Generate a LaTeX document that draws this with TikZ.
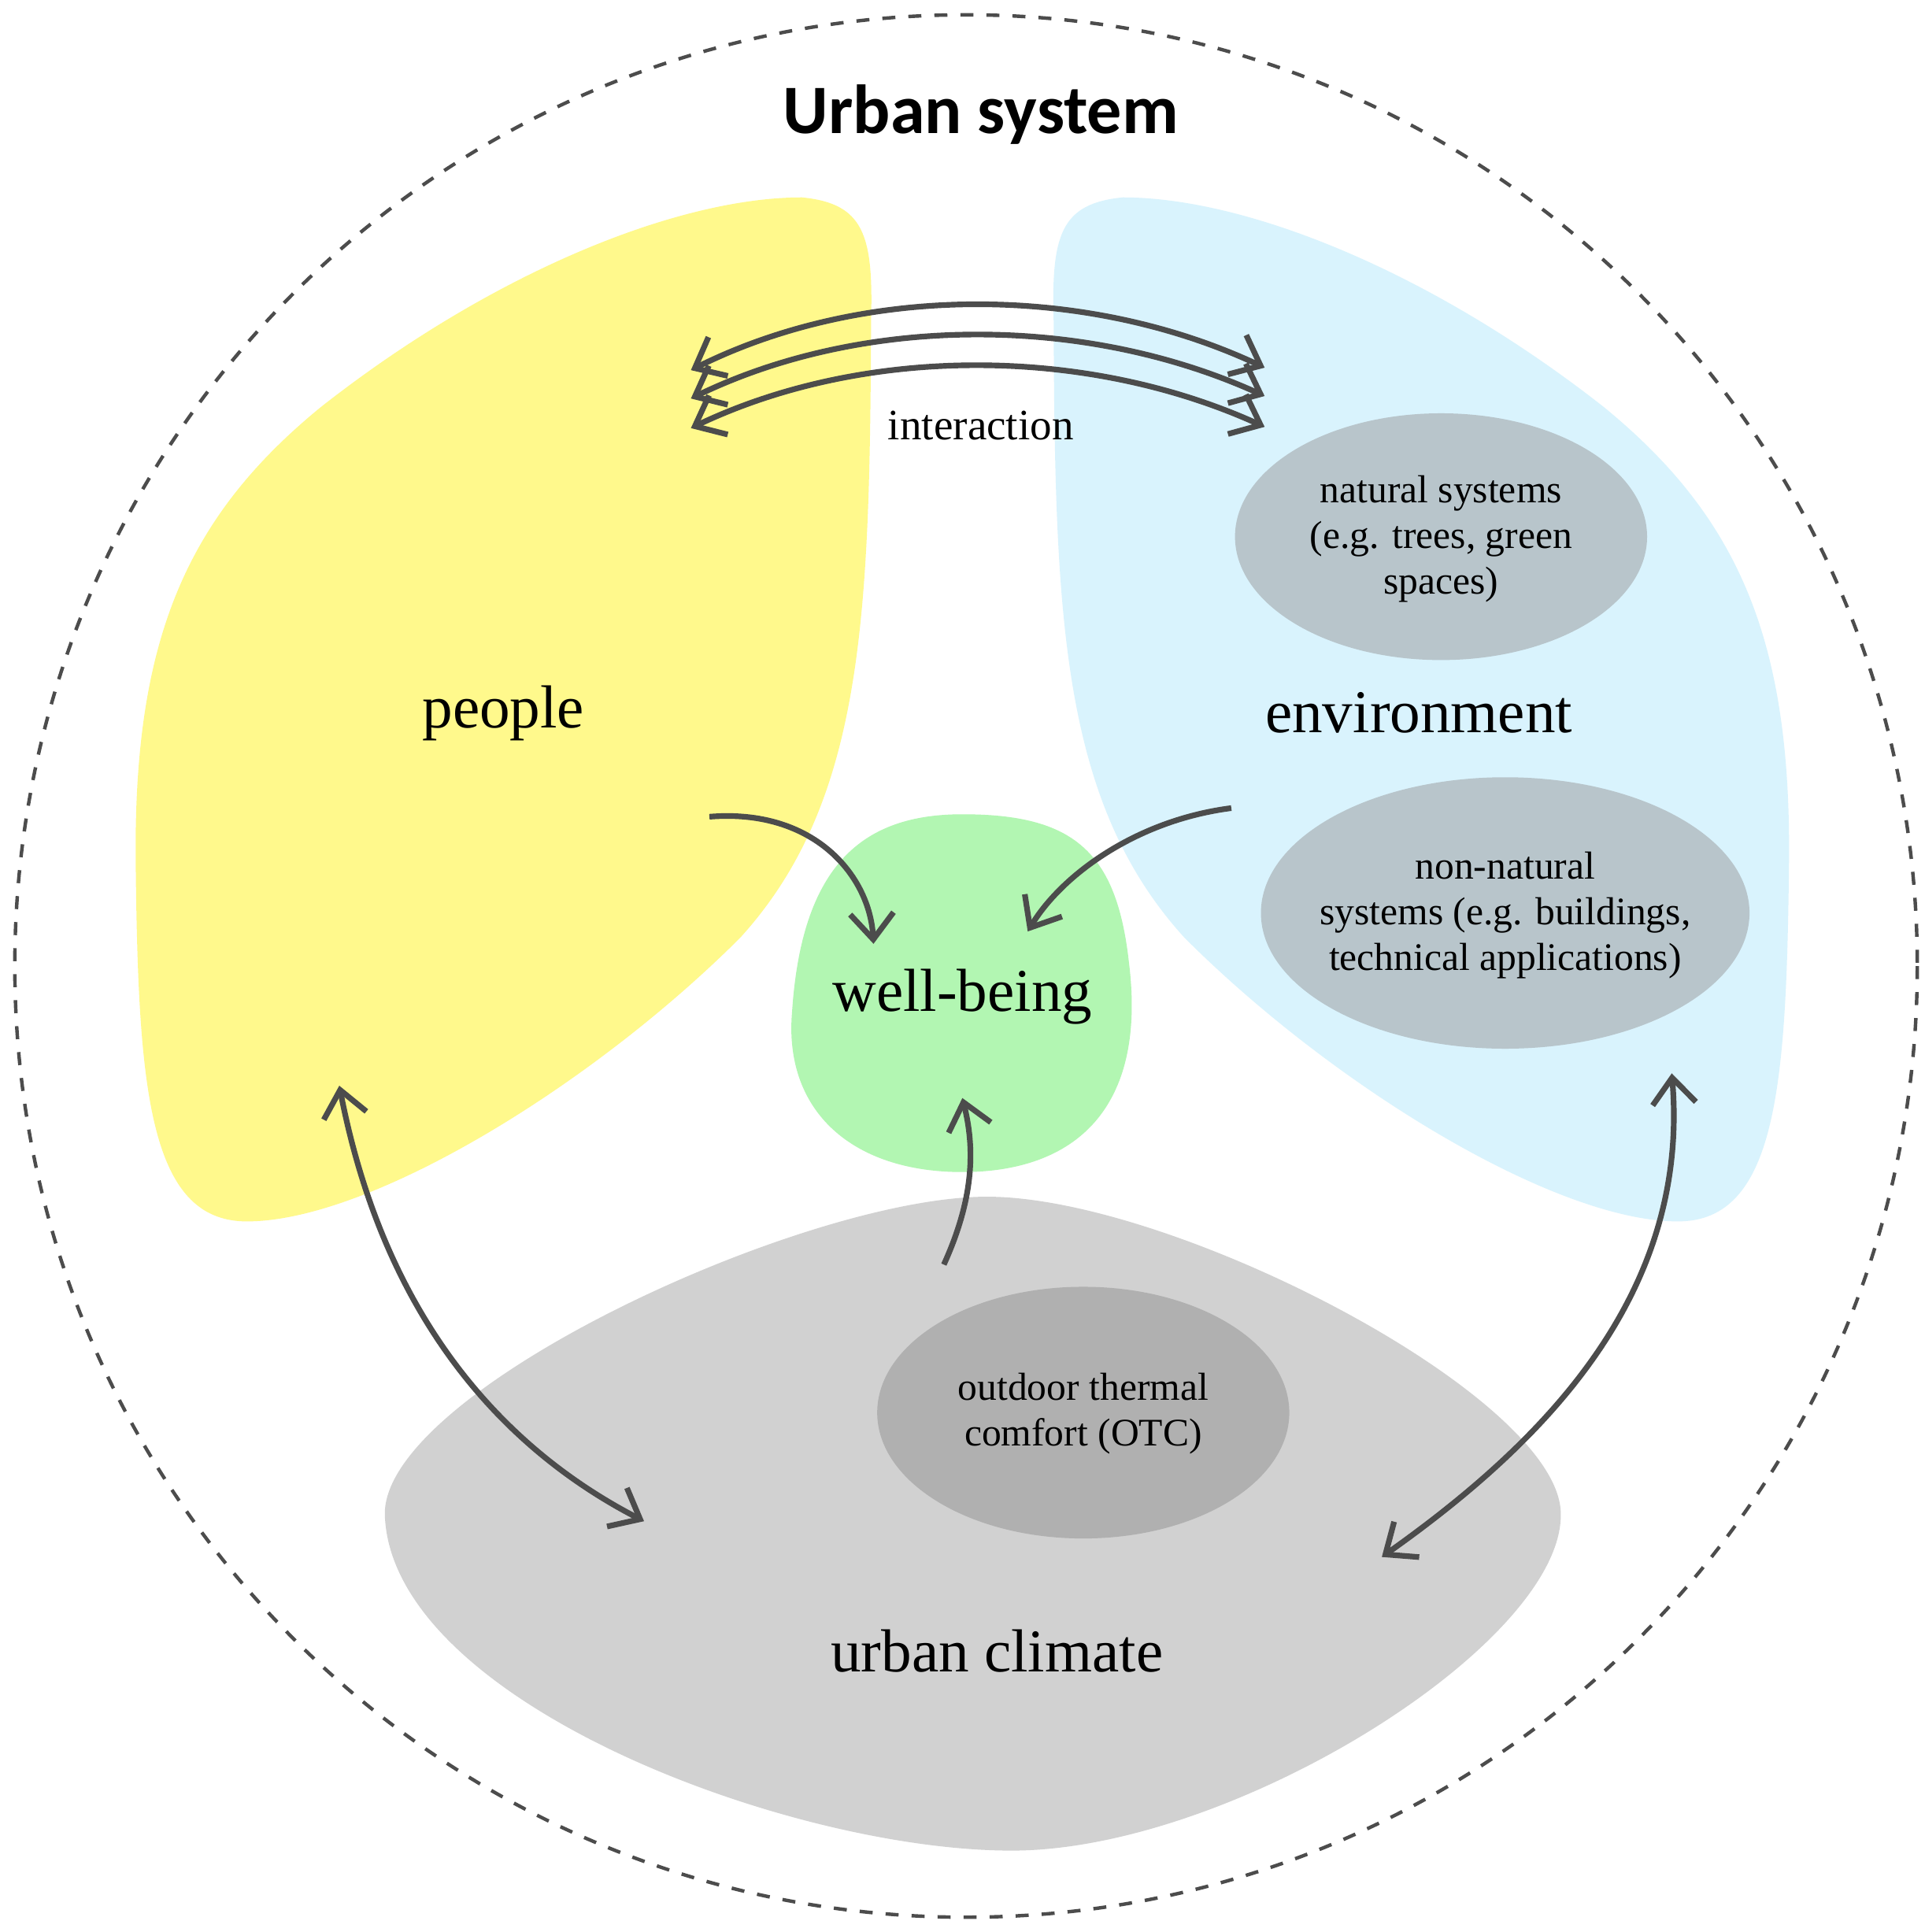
\documentclass[tikz,border=0pt]{standalone}
\usepackage{fontspec}
\setmainfont{Liberation Serif}
\newfontfamily\titlefont{Carlito}
\usetikzlibrary{arrows.meta}
\begin{document}
\begin{tikzpicture}[x=0.01cm,y=-0.01cm,
  blob/.style={draw=none},
  arr/.style={draw=black!70,line width=1.3pt,-{Straight Barb[length=6pt,width=10pt]}},
  darr/.style={draw=black!70,line width=1.3pt,{Straight Barb[length=6pt,width=10pt]}-{Straight Barb[length=6pt,width=10pt]}},
  lbl/.style={font=\fontsize{14}{16}\selectfont},
  small/.style={font=\fontsize{9}{10.5}\selectfont,align=center}]
\useasboundingbox[fill=white] (0,0) rectangle (1560,1566);
\draw[dashed,black!70,line width=0.8pt] (783,783) circle[radius=771];
% yellow
\fill[yellow!50!white!95!black, fill=yellow!45] (650,160) .. controls (700,165) and (708,190) .. (706,260)
  .. controls (705,500) and (700,650) .. (600,760) .. controls (480,880) and (300,990) .. (200,990)
  .. controls (120,990) and (112,880) .. (110,700) .. controls (108,520) and (150,420) .. (260,330)
  .. controls (400,220) and (550,160) .. (650,160) -- cycle;
% blue
\fill[cyan!15] (910,160) .. controls (860,165) and (852,190) .. (854,260)
  .. controls (855,500) and (860,650) .. (960,760) .. controls (1080,880) and (1260,990) .. (1360,990)
  .. controls (1440,990) and (1448,880) .. (1450,700) .. controls (1452,520) and (1410,420) .. (1300,330)
  .. controls (1160,220) and (1010,160) .. (910,160) -- cycle;
% green
\fill[green!50!black!25!green!30] (780,660) .. controls (870,660) and (905,690) .. (915,780)
  .. controls (930,900) and (870,950) .. (780,950) .. controls (690,950) and (635,900) .. (642,820)
  .. controls (650,700) and (700,660) .. (780,660) -- cycle;
% gray climate
\fill[black!18] (800,970) .. controls (950,970) and (1260,1130) .. (1265,1225)
  .. controls (1270,1330) and (1000,1500) .. (820,1500) .. controls (640,1500) and (320,1380) .. (312,1230)
  .. controls (305,1130) and (650,970) .. (800,970) -- cycle;
\fill[black!31] (878,1145) ellipse[x radius=167,y radius=102];
\fill[black!7!cyan!20!gray!55] (1168,435) ellipse[x radius=167,y radius=100];
\fill[black!7!cyan!20!gray!55] (1220,740) ellipse[x radius=198,y radius=110];
% texts
\node[font=\titlefont\bfseries\fontsize{16}{18}\selectfont] (title) at (795,93) {Urban system};
\node[lbl] (people) at (408,578) {people};
\node[lbl] (env) at (1150,578) {environment};
\node[lbl] (wb) at (780,808) {well-being};
\node[lbl] (uc) at (808,1338) {urban climate};
\node[font=\fontsize{10}{12}\selectfont] (inter) at (795,345) {interaction};
\node[small] (nat) at (1168,437) {natural systems\\(e.g. trees, green\\spaces)};
\node[small] (nonnat) at (1220,742) {non-natural\\systems (e.g. buildings,\\technical applications)};
\node[small] (otc) at (878,1146) {outdoor thermal\\comfort (OTC)};
% coordinates
\coordinate (a1) at (560,300); \coordinate (b1) at (1025,298);
\coordinate (a2) at (560,323); \coordinate (b2) at (1025,321);
\coordinate (a3) at (560,347); \coordinate (b3) at (1025,346);
\draw[darr] (a1) .. controls (700,230) and (880,230) .. (b1);
\draw[darr] (a2) .. controls (700,255) and (880,255) .. (b2);
\draw[darr] (a3) .. controls (700,280) and (880,280) .. (b3);
\coordinate (p1) at (575,662); \coordinate (w1) at (708,765);
\coordinate (e1) at (998,655); \coordinate (w2) at (833,755);
\coordinate (c1) at (765,1025); \coordinate (w3) at (780,890);
\coordinate (p2) at (275,880); \coordinate (c2) at (522,1233);
\coordinate (e2) at (1355,870); \coordinate (c3) at (1120,1262);
\draw[arr] (p1) .. controls (660,655) and (705,710) .. (w1);
\draw[arr] (e1) .. controls (920,665) and (860,710) .. (w2);
\draw[arr] (c1) .. controls (790,970) and (790,930) .. (w3);
\draw[darr] (p2) .. controls (310,1060) and (400,1170) .. (c2);
\draw[darr] (e2) .. controls (1370,1050) and (1250,1170) .. (c3);
\end{tikzpicture}
\end{document}
